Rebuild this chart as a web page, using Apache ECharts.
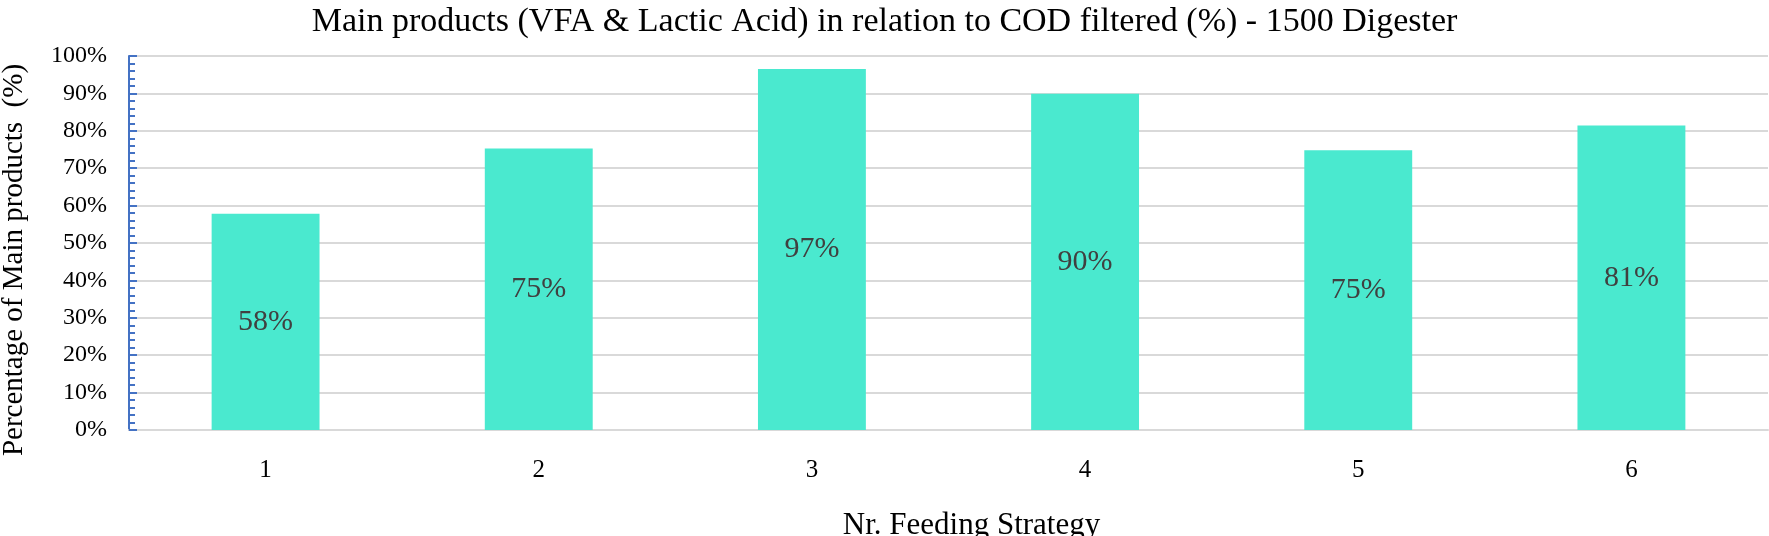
<!DOCTYPE html>
<html>
<head>
<meta charset="utf-8">
<script src="https://cdn.jsdelivr.net/npm/echarts@6/dist/echarts.min.js"></script>
<style>html,body{margin:0;padding:0;background:#fff}#c{width:1769px;height:536px}</style>
</head>
<body>
<div id="c"></div>
<script>
const categories = ['1', '2', '3', '4', '5', '6'];
const values = [57.8, 75.3, 96.5, 89.9, 74.8, 81.4];
const valueLabels = ['58%', '75%', '97%', '90%', '75%', '81%'];
const titleText = 'Main products (VFA & Lactic Acid) in relation to COD filtered (%) - 1500 Digester';
const xName = 'Nr. Feeding Strategy';
const yName = 'Percentage of Main products  (%)';

const FONT = '"Liberation Serif", "Times New Roman", serif';
const chart = echarts.init(document.getElementById('c'));
chart.setOption({
  animation: false,
  backgroundColor: '#fff',
  title: {
    text: titleText, left: 'center', top: 0,
    textStyle: { fontFamily: FONT, fontSize: 34, fontWeight: 'normal', color: '#000' }
  },
  grid: { left: 129, right: 1, top: 56, bottom: 106, containLabel: false, outerBoundsMode: 'none' },
  xAxis: {
    type: 'category', data: categories,
    name: xName, nameLocation: 'middle', nameGap: 80,
    nameTextStyle: { fontFamily: FONT, fontSize: 31, color: '#000', padding: [0, 0, 0, 46] },
    axisLine: { show: true, lineStyle: { color: '#d9d9d9', width: 2 } },
    axisTick: { show: false },
    axisLabel: { fontFamily: FONT, fontSize: 25, color: '#000', margin: 28 }
  },
  yAxis: {
    type: 'value', min: 0, max: 100, interval: 10,
    name: yName, nameLocation: 'middle', nameGap: 100,
    nameTextStyle: { fontFamily: FONT, fontSize: 29, color: '#000', padding: [0, 34, 0, 0] },
    axisLine: { show: true, lineStyle: { color: '#4472c4', width: 2 } },
    axisTick: { show: true, inside: true, length: 8, lineStyle: { color: '#4472c4', width: 2 } },
    minorTick: { show: true, splitNumber: 5, length: 6, lineStyle: { color: '#4472c4', width: 2 } },
    axisLabel: { fontFamily: FONT, fontSize: 24, color: '#000', margin: 22, formatter: '{value}%' },
    splitLine: { show: true, lineStyle: { color: '#d9d9d9', width: 2 } }
  },
  series: [{
    type: 'bar', data: values, barWidth: '39.5%',
    itemStyle: { color: '#4ae9cf' },
    label: {
      show: true, position: 'inside',
      formatter: p => valueLabels[p.dataIndex],
      fontFamily: FONT, fontSize: 30, color: '#404040'
    }
  }]
});
</script>
</body>
</html>
